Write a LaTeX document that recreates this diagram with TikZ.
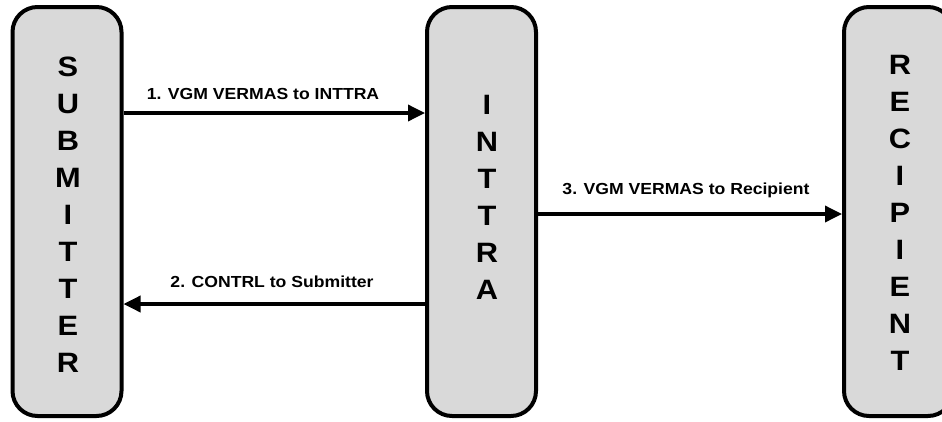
\documentclass[tikz,border=0pt]{standalone}
\usepackage{fontspec}
\setmainfont{Liberation Sans}[FakeStretch=1.1]
\usetikzlibrary{arrows.meta}
\definecolor{boxgray}{HTML}{D9D9D9}
\begin{document}
\begin{tikzpicture}[x=1pt,y=-1pt,
  actor/.style={draw=black,line width=4pt,fill=boxgray,rounded corners=25pt,
    minimum width=109pt,minimum height=409pt,inner sep=0pt},
  letters/.style={align=center,inner sep=0pt,font=\fontsize{28}{37}\selectfont\bfseries},
  msg/.style={line width=3.5pt,-{Triangle[length=17pt,width=16pt]}},
  lbl/.style={inner sep=0pt,font=\fontsize{16}{18}\selectfont\bfseries}]
\useasboundingbox (0,0) rectangle (942,421);
\clip (0,0) rectangle (942,421);
\fill[white] (0,0) rectangle (942,421);
\node[actor] (sub) at (67,211.5) {};
\node[actor] (int) at (481.5,211.5) {};
\node[actor] (rec) at (898.5,211.5) {};
\node[letters] (subt) at (68,214.5) {S\\U\\B\\M\\I\\T\\T\\E\\R};
\node[letters] (intt) at (487,197.5) {I\\N\\T\\T\\R\\A};
\node[letters] (rect) at (900,212.5) {R\\E\\C\\I\\P\\I\\E\\N\\T};
\coordinate (y1) at (0,113);
\coordinate (y2) at (0,304);
\coordinate (y3) at (0,214);
\draw[msg] (sub.east |- y1) -- (int.west |- y1);
\draw[msg] (int.west |- y2) -- (sub.east |- y2);
\draw[msg] (int.east |- y3) -- (rec.west |- y3);
\node[lbl] (l1) at (263,94) {1. VGM VERMAS to INTTRA};
\node[lbl] (l2) at (272,282) {2. CONTRL to Submitter};
\node[lbl] (l3) at (686,190) {3. VGM VERMAS to Recipient};
\end{tikzpicture}
\end{document}
